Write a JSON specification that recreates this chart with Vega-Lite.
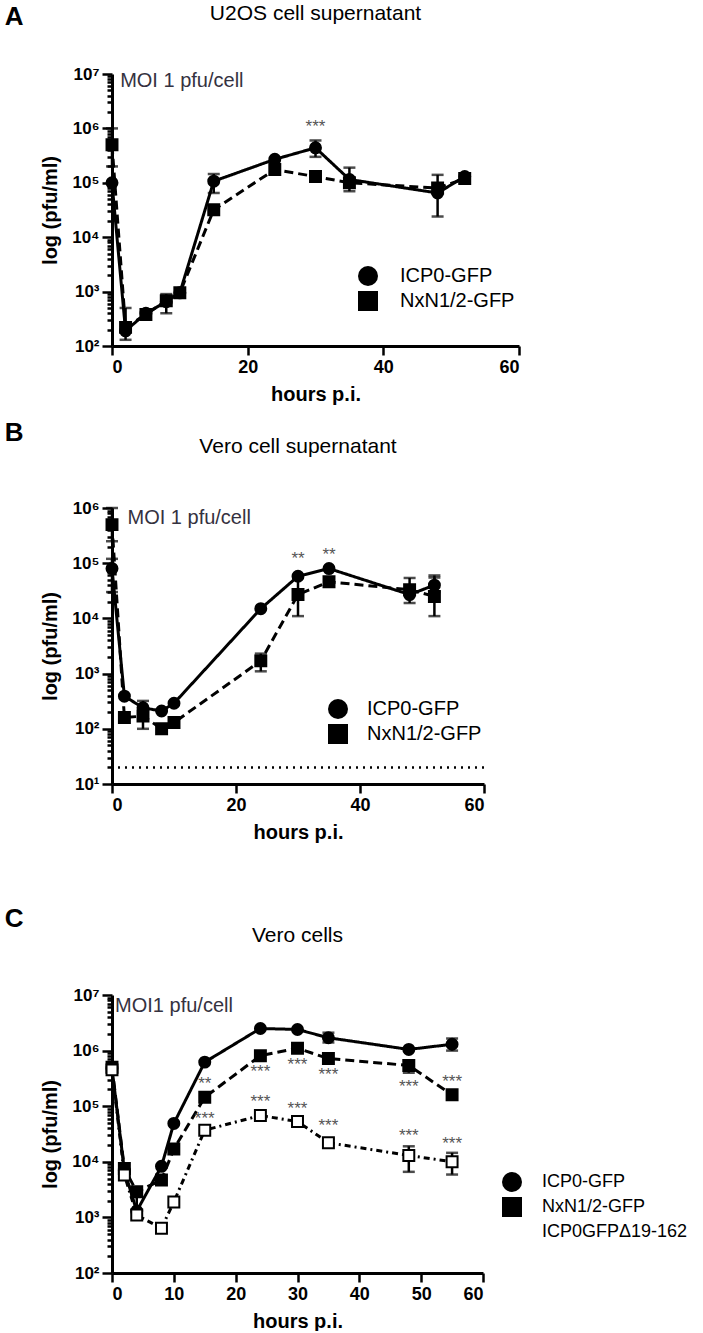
{
  "$schema": "https://vega.github.io/schema/vega-lite/v6.json",
  "background": "white",
  "padding": {"left": 4, "top": 3, "right": 0, "bottom": 0},
  "resolve": {"scale": {"shape": "independent", "fill": "independent"}, "legend": {"shape": "independent", "fill": "independent"}},
  "datasets": {
    "A_main": [
      {"series": "ICP0-GFP", "t": 0, "v": 100000}, {"series": "ICP0-GFP", "t": 2, "v": 190}, {"series": "ICP0-GFP", "t": 5, "v": 400}, {"series": "ICP0-GFP", "t": 8, "v": 650}, {"series": "ICP0-GFP", "t": 10, "v": 950}, {"series": "ICP0-GFP", "t": 15, "v": 107000}, {"series": "ICP0-GFP", "t": 24, "v": 270000}, {"series": "ICP0-GFP", "t": 30, "v": 440000}, {"series": "ICP0-GFP", "t": 35, "v": 115000}, {"series": "ICP0-GFP", "t": 48, "v": 65000}, {"series": "ICP0-GFP", "t": 52, "v": 130000},
      {"series": "NxN1/2-GFP", "t": 0, "v": 500000}, {"series": "NxN1/2-GFP", "t": 2, "v": 220}, {"series": "NxN1/2-GFP", "t": 5, "v": 380}, {"series": "NxN1/2-GFP", "t": 8, "v": 680}, {"series": "NxN1/2-GFP", "t": 10, "v": 950}, {"series": "NxN1/2-GFP", "t": 15, "v": 32000}, {"series": "NxN1/2-GFP", "t": 24, "v": 175000}, {"series": "NxN1/2-GFP", "t": 30, "v": 130000}, {"series": "NxN1/2-GFP", "t": 35, "v": 100000}, {"series": "NxN1/2-GFP", "t": 48, "v": 80000}, {"series": "NxN1/2-GFP", "t": 52, "v": 120000}
    ],
    "A_err": [
      {"series": "NxN1/2-GFP", "t": 0, "v": 200000, "hi": 1000000}, {"series": "ICP0-GFP", "t": 2, "v": 130, "hi": 500}, {"series": "NxN1/2-GFP", "t": 8, "v": 400, "hi": 900}, {"series": "ICP0-GFP", "t": 15, "v": 65000, "hi": 145000}, {"series": "ICP0-GFP", "t": 30, "v": 300000, "hi": 600000}, {"series": "ICP0-GFP", "t": 35, "v": 70000, "hi": 190000}, {"series": "ICP0-GFP", "t": 48, "v": 24000, "hi": 140000}, {"series": "ICP0-GFP", "t": 52, "v": 100000, "hi": 150000}
    ],
    "A_star": [{"t": 30, "v": 1070000, "label": "***"}],
    "B_main": [
      {"series": "ICP0-GFP", "t": 0, "v": 80000}, {"series": "ICP0-GFP", "t": 2, "v": 390}, {"series": "ICP0-GFP", "t": 5, "v": 240}, {"series": "ICP0-GFP", "t": 8, "v": 210}, {"series": "ICP0-GFP", "t": 10, "v": 290}, {"series": "ICP0-GFP", "t": 24, "v": 15000}, {"series": "ICP0-GFP", "t": 30, "v": 58000}, {"series": "ICP0-GFP", "t": 35, "v": 80000}, {"series": "ICP0-GFP", "t": 48, "v": 27000}, {"series": "ICP0-GFP", "t": 52, "v": 40000},
      {"series": "NxN1/2-GFP", "t": 0, "v": 500000}, {"series": "NxN1/2-GFP", "t": 2, "v": 160}, {"series": "NxN1/2-GFP", "t": 5, "v": 170}, {"series": "NxN1/2-GFP", "t": 8, "v": 100}, {"series": "NxN1/2-GFP", "t": 10, "v": 130}, {"series": "NxN1/2-GFP", "t": 24, "v": 1700}, {"series": "NxN1/2-GFP", "t": 30, "v": 27000}, {"series": "NxN1/2-GFP", "t": 35, "v": 46000}, {"series": "NxN1/2-GFP", "t": 48, "v": 33000}, {"series": "NxN1/2-GFP", "t": 52, "v": 25000}
    ],
    "B_err": [
      {"series": "NxN1/2-GFP", "t": 0, "v": 250000, "hi": 1000000}, {"series": "ICP0-GFP", "t": 0, "v": 30000, "hi": 120000}, {"series": "NxN1/2-GFP", "t": 5, "v": 100, "hi": 320}, {"series": "NxN1/2-GFP", "t": 24, "v": 1100, "hi": 2300}, {"series": "NxN1/2-GFP", "t": 30, "v": 11000, "hi": 57000}, {"series": "NxN1/2-GFP", "t": 35, "v": 40000, "hi": 53000}, {"series": "NxN1/2-GFP", "t": 48, "v": 19000, "hi": 54000}, {"series": "ICP0-GFP", "t": 52, "v": 30000, "hi": 60000}, {"series": "NxN1/2-GFP", "t": 52, "v": 11000, "hi": 55000}
    ],
    "B_star": [{"t": 30, "v": 120000, "label": "**"}, {"t": 35, "v": 140000, "label": "**"}],
    "B_lod": [{"lod": 20}],
    "C_main": [
      {"series": "ICP0-GFP", "t": 0, "v": 480000}, {"series": "ICP0-GFP", "t": 2, "v": 7000}, {"series": "ICP0-GFP", "t": 4, "v": 1300}, {"series": "ICP0-GFP", "t": 8, "v": 8300}, {"series": "ICP0-GFP", "t": 10, "v": 49000}, {"series": "ICP0-GFP", "t": 15, "v": 620000}, {"series": "ICP0-GFP", "t": 24, "v": 2500000}, {"series": "ICP0-GFP", "t": 30, "v": 2400000}, {"series": "ICP0-GFP", "t": 35, "v": 1700000}, {"series": "ICP0-GFP", "t": 48, "v": 1050000}, {"series": "ICP0-GFP", "t": 55, "v": 1300000},
      {"series": "NxN1/2-GFP", "t": 0, "v": 500000}, {"series": "NxN1/2-GFP", "t": 2, "v": 7600}, {"series": "NxN1/2-GFP", "t": 4, "v": 2900}, {"series": "NxN1/2-GFP", "t": 8, "v": 4700}, {"series": "NxN1/2-GFP", "t": 10, "v": 17000}, {"series": "NxN1/2-GFP", "t": 15, "v": 145000}, {"series": "NxN1/2-GFP", "t": 24, "v": 810000}, {"series": "NxN1/2-GFP", "t": 30, "v": 1100000}, {"series": "NxN1/2-GFP", "t": 35, "v": 720000}, {"series": "NxN1/2-GFP", "t": 48, "v": 540000}, {"series": "NxN1/2-GFP", "t": 55, "v": 160000},
      {"series": "ICP0GFPΔ19-162", "t": 0, "v": 450000}, {"series": "ICP0GFPΔ19-162", "t": 2, "v": 5800}, {"series": "ICP0GFPΔ19-162", "t": 4, "v": 1100}, {"series": "ICP0GFPΔ19-162", "t": 8, "v": 640}, {"series": "ICP0GFPΔ19-162", "t": 10, "v": 1900}, {"series": "ICP0GFPΔ19-162", "t": 15, "v": 37000}, {"series": "ICP0GFPΔ19-162", "t": 24, "v": 68000}, {"series": "ICP0GFPΔ19-162", "t": 30, "v": 53000}, {"series": "ICP0GFPΔ19-162", "t": 35, "v": 22000}, {"series": "ICP0GFPΔ19-162", "t": 48, "v": 13000}, {"series": "ICP0GFPΔ19-162", "t": 55, "v": 10000}
    ],
    "C_err": [
      {"series": "NxN1/2-GFP", "t": 0, "v": 400000, "hi": 600000}, {"series": "ICP0-GFP", "t": 4, "v": 1200, "hi": 2400}, {"series": "ICP0GFPΔ19-162", "t": 24, "v": 60000, "hi": 78000}, {"series": "ICP0-GFP", "t": 35, "v": 1400000, "hi": 2100000}, {"series": "ICP0GFPΔ19-162", "t": 35, "v": 19000, "hi": 26000}, {"series": "NxN1/2-GFP", "t": 48, "v": 400000, "hi": 660000}, {"series": "ICP0GFPΔ19-162", "t": 48, "v": 6600, "hi": 19000}, {"series": "ICP0-GFP", "t": 55, "v": 1000000, "hi": 1650000}, {"series": "ICP0GFPΔ19-162", "t": 55, "v": 5900, "hi": 14500}
    ],
    "C_star": [
      {"t": 15, "v": 250000, "label": "**"}, {"t": 15, "v": 60000, "label": "***"}, {"t": 24, "v": 420000, "label": "***"}, {"t": 24, "v": 120000, "label": "***"}, {"t": 30, "v": 550000, "label": "***"}, {"t": 30, "v": 90000, "label": "***"}, {"t": 35, "v": 360000, "label": "***"}, {"t": 35, "v": 44000, "label": "***"}, {"t": 48, "v": 220000, "label": "***"}, {"t": 48, "v": 29000, "label": "***"}, {"t": 55, "v": 270000, "label": "***"}, {"t": 55, "v": 21000, "label": "***"}
    ]
  },
  "vconcat": [
    {
      "spacing": 16,
      "resolve": {"scale": {"shape": "independent", "fill": "independent"}, "legend": {"shape": "independent", "fill": "independent"}},
      "vconcat": [
        {
          "title": {"text": "A", "anchor": "start", "frame": "bounds", "fontSize": 26, "fontWeight": "bold", "dx": -36, "offset": -27},
          "vconcat": [
            {
              "width": 407, "height": 272,
              "title": {"text": "U2OS cell supernatant", "fontSize": 21, "fontWeight": "normal", "anchor": "middle", "frame": "group", "offset": 41},
              "layer": [
                {
                  "data": {"name": "A_main"},
                  "mark": {"type": "line", "strokeWidth": 3, "color": "black"},
                  "encoding": {
                    "x": {"field": "t", "type": "quantitative", "title": "hours p.i.", "scale": {"domain": [0, 60], "nice": false},
                      "axis": {"values": [0, 20, 40, 60], "tickSize": 9, "labelPadding": 3, "titlePadding": 8, "labelFontSize": 18}},
                    "y": {"field": "v", "type": "quantitative", "title": "log (pfu/ml)", "scale": {"type": "log", "domain": [100, 10000000], "nice": false},
                      "axis": {"values": [100,200,300,400,500,600,700,800,900,1000,2000,3000,4000,5000,6000,7000,8000,9000,10000,20000,30000,40000,50000,60000,70000,80000,90000,100000,200000,300000,400000,500000,600000,700000,800000,900000,1000000,2000000,3000000,4000000,5000000,6000000,7000000,8000000,9000000,10000000],
                        "labelExpr": "datum.value==100 ? '10²' : datum.value==1000 ? '10³' : datum.value==10000 ? '10⁴' : datum.value==100000 ? '10⁵' : datum.value==1000000 ? '10⁶' : datum.value==10000000 ? '10⁷' : ''",
                        "tickSize": {"condition": {"test": "datum.value==100 || datum.value==1000 || datum.value==10000 || datum.value==100000 || datum.value==1000000 || datum.value==10000000", "value": 10}, "value": 5},
                        "labelPadding": 3, "titlePadding": 11, "labelFontSize": 17, "labelOverlap": false}},
                    "detail": {"field": "series"},
                    "strokeDash": {"condition": {"test": "datum.series==='NxN1/2-GFP'", "value": [9, 5]}, "value": [1, 0]}
                  }
                },
                {
                  "data": {"name": "A_err"},
                  "mark": {"type": "errorbar", "color": "black", "ticks": {"size": 12, "thickness": 2.5, "color": "black"}, "rule": {"strokeWidth": 2.5}},
                  "encoding": {
                    "x": {"field": "t", "type": "quantitative", "title": "hours p.i.", "scale": {"domain": [0, 60], "nice": false}},
                    "y": {"field": "v", "type": "quantitative", "title": "log (pfu/ml)", "scale": {"type": "log", "domain": [100, 10000000], "nice": false}},
                    "y2": {"field": "hi"}
                  }
                },
                {
                  "data": {"name": "A_main"},
                  "mark": {"type": "point", "filled": true, "size": 120, "stroke": "black", "strokeWidth": 2, "opacity": 1, "fill": "black"},
                  "encoding": {
                    "x": {"field": "t", "type": "quantitative", "title": "hours p.i.", "scale": {"domain": [0, 60], "nice": false}},
                    "y": {"field": "v", "type": "quantitative", "title": "log (pfu/ml)", "scale": {"type": "log", "domain": [100, 10000000], "nice": false}},
                    "shape": {"field": "series", "type": "nominal", "scale": {"domain": ["ICP0-GFP", "NxN1/2-GFP"], "range": ["circle", "square"]},
                      "legend": {"title": null, "orient": "none", "legendX": 245, "legendY": 191, "labelFontSize": 20, "labelOffset": 21, "symbolSize": 400, "rowPadding": -6, "symbolFillColor": "black", "symbolStrokeColor": "black", "symbolStrokeWidth": 2}}
                  }
                },
                {
                  "data": {"name": "A_star"},
                  "mark": {"type": "text", "fontSize": 17, "color": "#555555", "baseline": "middle"},
                  "encoding": {
                    "x": {"field": "t", "type": "quantitative", "title": "hours p.i.", "scale": {"domain": [0, 60], "nice": false}},
                    "y": {"field": "v", "type": "quantitative", "title": "log (pfu/ml)", "scale": {"type": "log", "domain": [100, 10000000], "nice": false}},
                    "text": {"field": "label"}
                  }
                },
                {
                  "data": {"values": [{}]},
                  "mark": {"type": "text", "fontSize": 20, "color": "#35323f", "align": "left", "baseline": "middle"},
                  "encoding": {
                    "x": {"datum": 1.2, "type": "quantitative", "title": "hours p.i.", "scale": {"domain": [0, 60], "nice": false}},
                    "y": {"datum": 7400000, "type": "quantitative", "title": "log (pfu/ml)", "scale": {"type": "log", "domain": [100, 10000000], "nice": false}},
                    "text": {"value": "MOI 1 pfu/cell"}
                  }
                }
              ]
            }
          ]
        },
        {
          "title": {"text": "B", "anchor": "start", "frame": "bounds", "fontSize": 26, "fontWeight": "bold", "dx": -36, "offset": -10},
          "vconcat": [
            {
              "width": 372, "height": 276,
              "title": {"text": "Vero cell supernatant", "fontSize": 21, "fontWeight": "normal", "anchor": "middle", "frame": "group", "offset": 42},
              "layer": [
                {
                  "data": {"name": "B_main"},
                  "mark": {"type": "line", "strokeWidth": 3, "color": "black"},
                  "encoding": {
                    "x": {"field": "t", "type": "quantitative", "title": "hours p.i.", "scale": {"domain": [0, 60], "nice": false},
                      "axis": {"values": [0, 20, 40, 60], "tickSize": 9, "labelPadding": 3, "titlePadding": 8, "labelFontSize": 18}},
                    "y": {"field": "v", "type": "quantitative", "title": "log (pfu/ml)", "scale": {"type": "log", "domain": [10, 1000000], "nice": false},
                      "axis": {"values": [10,20,30,40,50,60,70,80,90,100,200,300,400,500,600,700,800,900,1000,2000,3000,4000,5000,6000,7000,8000,9000,10000,20000,30000,40000,50000,60000,70000,80000,90000,100000,200000,300000,400000,500000,600000,700000,800000,900000,1000000],
                        "labelExpr": "datum.value==10 ? '10¹' : datum.value==100 ? '10²' : datum.value==1000 ? '10³' : datum.value==10000 ? '10⁴' : datum.value==100000 ? '10⁵' : datum.value==1000000 ? '10⁶' : ''",
                        "tickSize": {"condition": {"test": "datum.value==10 || datum.value==100 || datum.value==1000 || datum.value==10000 || datum.value==100000 || datum.value==1000000", "value": 10}, "value": 5},
                        "labelPadding": 3, "titlePadding": 11, "labelFontSize": 17, "labelOverlap": false}},
                    "detail": {"field": "series"},
                    "strokeDash": {"condition": {"test": "datum.series==='NxN1/2-GFP'", "value": [9, 5]}, "value": [1, 0]}
                  }
                },
                {
                  "data": {"name": "B_lod"},
                  "mark": {"type": "rule", "strokeWidth": 2.5, "strokeDash": [2, 5], "color": "black"},
                  "encoding": {
                    "y": {"field": "lod", "type": "quantitative", "title": "log (pfu/ml)", "scale": {"type": "log", "domain": [10, 1000000], "nice": false}}
                  }
                },
                {
                  "data": {"name": "B_err"},
                  "mark": {"type": "errorbar", "color": "black", "ticks": {"size": 12, "thickness": 2.5, "color": "black"}, "rule": {"strokeWidth": 2.5}},
                  "encoding": {
                    "x": {"field": "t", "type": "quantitative", "title": "hours p.i.", "scale": {"domain": [0, 60], "nice": false}},
                    "y": {"field": "v", "type": "quantitative", "title": "log (pfu/ml)", "scale": {"type": "log", "domain": [10, 1000000], "nice": false}},
                    "y2": {"field": "hi"}
                  }
                },
                {
                  "data": {"name": "B_main"},
                  "mark": {"type": "point", "filled": true, "size": 120, "stroke": "black", "strokeWidth": 2, "opacity": 1, "fill": "black"},
                  "encoding": {
                    "x": {"field": "t", "type": "quantitative", "title": "hours p.i.", "scale": {"domain": [0, 60], "nice": false}},
                    "y": {"field": "v", "type": "quantitative", "title": "log (pfu/ml)", "scale": {"type": "log", "domain": [10, 1000000], "nice": false}},
                    "shape": {"field": "series", "type": "nominal", "scale": {"domain": ["ICP0-GFP", "NxN1/2-GFP"], "range": ["circle", "square"]},
                      "legend": {"title": null, "orient": "none", "legendX": 215, "legendY": 190, "labelFontSize": 20, "labelOffset": 18, "symbolSize": 400, "rowPadding": -6, "symbolFillColor": "black", "symbolStrokeColor": "black", "symbolStrokeWidth": 2}}
                  }
                },
                {
                  "data": {"name": "B_star"},
                  "mark": {"type": "text", "fontSize": 17, "color": "#555555", "baseline": "middle"},
                  "encoding": {
                    "x": {"field": "t", "type": "quantitative", "title": "hours p.i.", "scale": {"domain": [0, 60], "nice": false}},
                    "y": {"field": "v", "type": "quantitative", "title": "log (pfu/ml)", "scale": {"type": "log", "domain": [10, 1000000], "nice": false}},
                    "text": {"field": "label"}
                  }
                },
                {
                  "data": {"values": [{}]},
                  "mark": {"type": "text", "fontSize": 20, "color": "#35323f", "align": "left", "baseline": "middle"},
                  "encoding": {
                    "x": {"datum": 2.5, "type": "quantitative", "title": "hours p.i.", "scale": {"domain": [0, 60], "nice": false}},
                    "y": {"datum": 660000, "type": "quantitative", "title": "log (pfu/ml)", "scale": {"type": "log", "domain": [10, 1000000], "nice": false}},
                    "text": {"value": "MOI 1 pfu/cell"}
                  }
                }
              ]
            }
          ]
        }
      ]
    },
    {
      "title": {"text": "C", "anchor": "start", "frame": "bounds", "fontSize": 26, "fontWeight": "bold", "dx": -36, "offset": -7},
      "vconcat": [
        {
          "width": 371, "height": 278,
          "title": {"text": "Vero cells", "fontSize": 21, "fontWeight": "normal", "anchor": "middle", "frame": "group", "offset": 40},
          "layer": [
            {
              "data": {"name": "C_main"},
              "mark": {"type": "line", "strokeWidth": 3, "color": "black"},
              "encoding": {
                "x": {"field": "t", "type": "quantitative", "title": "hours p.i.", "scale": {"domain": [0, 60], "nice": false},
                  "axis": {"values": [0, 10, 20, 30, 40, 50, 60], "tickSize": 9, "labelPadding": 3, "titlePadding": 8, "labelFontSize": 18}},
                "y": {"field": "v", "type": "quantitative", "title": "log (pfu/ml)", "scale": {"type": "log", "domain": [100, 10000000], "nice": false},
                  "axis": {"values": [100,200,300,400,500,600,700,800,900,1000,2000,3000,4000,5000,6000,7000,8000,9000,10000,20000,30000,40000,50000,60000,70000,80000,90000,100000,200000,300000,400000,500000,600000,700000,800000,900000,1000000,2000000,3000000,4000000,5000000,6000000,7000000,8000000,9000000,10000000],
                    "labelExpr": "datum.value==100 ? '10²' : datum.value==1000 ? '10³' : datum.value==10000 ? '10⁴' : datum.value==100000 ? '10⁵' : datum.value==1000000 ? '10⁶' : datum.value==10000000 ? '10⁷' : ''",
                    "tickSize": {"condition": {"test": "datum.value==100 || datum.value==1000 || datum.value==10000 || datum.value==100000 || datum.value==1000000 || datum.value==10000000", "value": 10}, "value": 5},
                    "labelPadding": 3, "titlePadding": 11, "labelFontSize": 17, "labelOverlap": false}},
                "detail": {"field": "series"},
                "strokeDash": {"condition": [{"test": "datum.series==='NxN1/2-GFP'", "value": [9, 5]}, {"test": "datum.series==='ICP0GFPΔ19-162'", "value": [6, 4, 2, 4]}], "value": [1, 0]}
              }
            },
            {
              "data": {"name": "C_err"},
              "mark": {"type": "errorbar", "color": "black", "ticks": {"size": 12, "thickness": 2.5, "color": "black"}, "rule": {"strokeWidth": 2.5}},
              "encoding": {
                "x": {"field": "t", "type": "quantitative", "title": "hours p.i.", "scale": {"domain": [0, 60], "nice": false}},
                "y": {"field": "v", "type": "quantitative", "title": "log (pfu/ml)", "scale": {"type": "log", "domain": [100, 10000000], "nice": false}},
                "y2": {"field": "hi"}
              }
            },
            {
              "data": {"name": "C_main"},
              "mark": {"type": "point", "filled": true, "size": 120, "stroke": "black", "strokeWidth": 2, "opacity": 1},
              "encoding": {
                "x": {"field": "t", "type": "quantitative", "title": "hours p.i.", "scale": {"domain": [0, 60], "nice": false}},
                "y": {"field": "v", "type": "quantitative", "title": "log (pfu/ml)", "scale": {"type": "log", "domain": [100, 10000000], "nice": false}},
                "fill": {"field": "series", "type": "nominal", "scale": {"domain": ["ICP0-GFP", "NxN1/2-GFP", "ICP0GFPΔ19-162"], "range": ["black", "black", "white"]},
                  "legend": {"title": null, "orient": "none", "legendX": 389, "legendY": 176, "labelFontSize": 18, "labelOffset": 19, "symbolSize": 400, "rowPadding": -4.5, "symbolStrokeColor": "black", "symbolStrokeWidth": 2}},
                "shape": {"field": "series", "type": "nominal", "scale": {"domain": ["ICP0-GFP", "NxN1/2-GFP", "ICP0GFPΔ19-162"], "range": ["circle", "square", "square"]},
                  "legend": {"title": null, "orient": "none", "legendX": 389, "legendY": 176, "labelFontSize": 18, "labelOffset": 19, "symbolSize": 400, "rowPadding": -4.5, "symbolStrokeColor": "black", "symbolStrokeWidth": 2}}
              }
            },
            {
              "data": {"name": "C_star"},
              "mark": {"type": "text", "fontSize": 17, "color": "#555555", "baseline": "middle"},
              "encoding": {
                "x": {"field": "t", "type": "quantitative", "title": "hours p.i.", "scale": {"domain": [0, 60], "nice": false}},
                "y": {"field": "v", "type": "quantitative", "title": "log (pfu/ml)", "scale": {"type": "log", "domain": [100, 10000000], "nice": false}},
                "text": {"field": "label"}
              }
            },
            {
              "data": {"values": [{}]},
              "mark": {"type": "text", "fontSize": 20, "color": "#35323f", "align": "left", "baseline": "middle"},
              "encoding": {
                "x": {"datum": 0.5, "type": "quantitative", "title": "hours p.i.", "scale": {"domain": [0, 60], "nice": false}},
                "y": {"datum": 6300000, "type": "quantitative", "title": "log (pfu/ml)", "scale": {"type": "log", "domain": [100, 10000000], "nice": false}},
                "text": {"value": "MOI1 pfu/cell"}
              }
            }
          ]
        }
      ]
    }
  ],
  "spacing": 64,
  "config": {
    "font": "Liberation Sans",
    "view": {"stroke": null},
    "axis": {"domainColor": "black", "domainWidth": 3, "tickColor": "black", "tickWidth": 2.5, "grid": false, "labelFont": "Liberation Sans", "labelFontWeight": "bold", "labelColor": "black", "titleFont": "Liberation Sans", "titleFontWeight": "bold", "titleFontSize": 20, "titleColor": "black"},
    "title": {"font": "Liberation Sans", "color": "black"},
    "legend": {"labelFont": "Liberation Sans", "labelColor": "black"}
  }
}
